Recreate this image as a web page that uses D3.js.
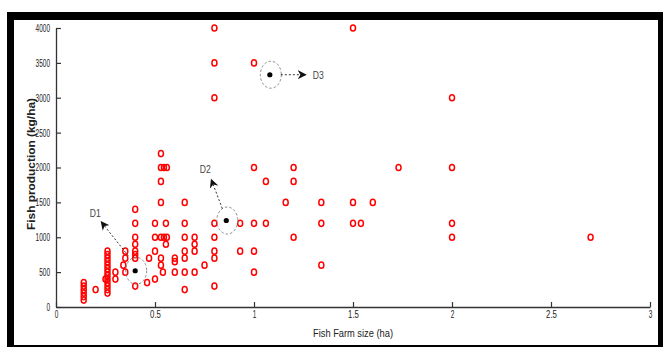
<!DOCTYPE html>
<html>
<head>
<meta charset="utf-8">
<script src="https://cdn.jsdelivr.net/npm/d3@7"></script>
<style>
  body { margin: 0; background: #fff; }
  svg { display: block; }
  .tick text { font-family: 'Liberation Sans', Arial, sans-serif; font-size: 10.5px; fill: #222; }
  .axis-title { font-family: 'Liberation Sans', Arial, sans-serif; font-size: 11px; fill: #222; }
  .note { font-family: 'Liberation Sans', Arial, sans-serif; font-size: 11.5px; fill: #444; }
</style>
</head>
<body>
<svg id="chart" width="663" height="347"></svg>
<script>
// farm size (ha) and fish production (kg/ha)
const farmSize = [
  0.8, 1.5, 0.8, 1.0, 0.8, 2.0,
  0.53, 0.53, 0.545, 0.56, 1.0, 1.2, 1.73, 2.0,
  0.53, 1.06, 1.2,
  0.53, 0.65, 1.16, 1.34, 1.5, 1.6,
  0.40,
  0.40, 0.50, 0.555, 0.65, 0.80, 0.93, 1.0, 1.06, 1.34, 1.5, 1.54, 2.0,
  0.40, 0.50, 0.53, 0.545, 0.56, 0.65, 0.70, 0.80, 1.2, 2.0, 2.7,
  0.40, 0.555, 0.70,
  0.26, 0.35, 0.40, 0.50, 0.65, 0.70, 0.80, 0.93, 1.0,
  0.26, 0.40,
  0.26, 0.35, 0.40, 0.47, 0.53, 0.60, 0.65, 0.80,
  0.26, 0.60,
  0.26, 0.34, 0.53, 0.75, 1.34,
  0.26,
  0.26, 0.30, 0.35, 0.54, 0.60, 0.65, 0.70, 1.0,
  0.26,
  0.25, 0.26, 0.30, 0.50,
  0.14, 0.26, 0.46,
  0.14, 0.26, 0.40, 0.80,
  0.14, 0.20, 0.26, 0.65,
  0.14, 0.26,
  0.14,
  0.14
];
const production = [
  4000, 4000, 3500, 3500, 3000, 3000,
  2200, 2000, 2000, 2000, 2000, 2000, 2000, 2000,
  1800, 1800, 1800,
  1500, 1500, 1500, 1500, 1500, 1500,
  1400,
  1200, 1200, 1200, 1200, 1200, 1200, 1200, 1200, 1200, 1200, 1200, 1200,
  1000, 1000, 1000, 1000, 1000, 1000, 1000, 1000, 1000, 1000, 1000,
  900, 900, 900,
  800, 800, 800, 800, 800, 800, 800, 800, 800,
  750, 750,
  700, 700, 700, 700, 700, 700, 700, 700,
  650, 650,
  600, 600, 600, 600, 600,
  550,
  500, 500, 500, 500, 500, 500, 500, 500,
  450,
  400, 400, 400, 400,
  350, 350, 350,
  300, 300, 300, 300,
  250, 250, 250, 250,
  200, 200,
  150,
  100
];

// marked points D1..D3
const noteNames = ['D1', 'D2', 'D3'];
const noteSize = [0.40, 0.86, 1.08];
const noteProd = [520, 1240, 3330];

const xTicks = [0, 0.5, 1, 1.5, 2, 2.5, 3];
const yTicks = [0, 500, 1000, 1500, 2000, 2500, 3000, 3500, 4000];

const svg = d3.select('#chart');

// squeeze text to look like the narrow face of the original
function narrow(sel, perChar) {
  sel.each(function () {
    const t = d3.select(this);
    t.attr('textLength', t.text().length * perChar).attr('lengthAdjust', 'spacingAndGlyphs');
  });
}

// black frame round the figure
svg.append('rect').attr('x', 7).attr('y', 12).attr('width', 656).attr('height', 335).attr('fill', '#000');
svg.append('rect').attr('x', 14).attr('y', 20).attr('width', 644).attr('height', 325).attr('fill', '#fff');

const x = d3.scaleLinear().domain([0, 3]).range([56, 650]);
const y = d3.scaleLinear().domain([0, 4000]).range([307, 28]);

// axes, ticks pointing inward
const xAxis = svg.append('g')
  .attr('transform', 'translate(0,307)')
  .call(d3.axisBottom(x).tickValues(xTicks).tickFormat(d3.format('')).tickSizeInner(-5).tickSizeOuter(0).tickPadding(4));
const yAxis = svg.append('g')
  .attr('transform', 'translate(56,0)')
  .call(d3.axisLeft(y).tickValues(yTicks).tickFormat(d3.format('d')).tickSizeInner(-5).tickSizeOuter(0).tickPadding(6));

[xAxis, yAxis].forEach((g) => {
  g.select('.domain').attr('stroke', '#333').attr('stroke-width', 1.3);
  g.selectAll('.tick line').attr('stroke', '#333').attr('stroke-width', 1.2);
  g.selectAll('.tick text').call(narrow, 3.6);
});

svg.append('text')
  .attr('class', 'axis-title')
  .attr('x', 353)
  .attr('y', 337)
  .attr('text-anchor', 'middle')
  .attr('textLength', 80)
  .attr('lengthAdjust', 'spacingAndGlyphs')
  .text('Fish Farm size (ha)');

svg.append('text')
  .attr('class', 'axis-title')
  .attr('transform', 'translate(35,164) rotate(-90)')
  .attr('text-anchor', 'middle')
  .attr('textLength', 132)
  .attr('lengthAdjust', 'spacingAndGlyphs')
  .style('font-weight', 'bold')
  .text('Fish production (kg/ha)');

// data markers
svg.append('g')
  .selectAll('ellipse')
  .data(d3.range(farmSize.length))
  .enter()
  .append('ellipse')
  .attr('cx', (i) => x(farmSize[i]))
  .attr('cy', (i) => y(production[i]))
  .attr('rx', 2.5)
  .attr('ry', 3.1)
  .attr('fill', 'none')
  .attr('stroke', '#f00')
  .attr('stroke-width', 1.5);

// arrow head
svg.append('defs')
  .append('marker')
  .attr('id', 'head')
  .attr('viewBox', '0 0 10 10')
  .attr('refX', 9)
  .attr('refY', 5)
  .attr('markerWidth', 9)
  .attr('markerHeight', 9)
  .attr('markerUnits', 'userSpaceOnUse')
  .attr('orient', 'auto')
  .append('path')
  .attr('d', 'M0,0 L10,5 L0,10 L3,5 Z')
  .attr('fill', '#111');

// offsets of arrow start/end and label from the marked point
const arrowFrom = [[-7, -15], [-4, -12], [11, 0]];
const arrowTo = [[-34, -49], [-15, -41], [36, 0]];
const labelAt = [[-40, -58], [-21, -52], [43, 0]];

const notes = svg.append('g');
noteNames.forEach((name, i) => {
  const cx = x(noteSize[i]);
  const cy = y(noteProd[i]);
  notes.append('ellipse')
    .attr('cx', cx + 1).attr('cy', cy)
    .attr('rx', 10.5).attr('ry', 13.5)
    .attr('fill', 'none')
    .attr('stroke', '#888')
    .attr('stroke-width', 1)
    .attr('stroke-dasharray', '2.5,2');
  notes.append('circle')
    .attr('cx', cx).attr('cy', cy)
    .attr('r', 2.6)
    .attr('fill', '#000');
  notes.append('line')
    .attr('x1', cx + arrowFrom[i][0]).attr('y1', cy + arrowFrom[i][1])
    .attr('x2', cx + arrowTo[i][0]).attr('y2', cy + arrowTo[i][1])
    .attr('stroke', '#333')
    .attr('stroke-width', 1)
    .attr('stroke-dasharray', '2,2')
    .attr('marker-end', 'url(#head)');
  notes.append('text')
    .attr('class', 'note')
    .attr('x', cx + labelAt[i][0])
    .attr('y', cy + labelAt[i][1])
    .attr('dy', '0.35em')
    .attr('text-anchor', i === 2 ? 'start' : 'middle')
    .attr('textLength', 11)
    .attr('lengthAdjust', 'spacingAndGlyphs')
    .text(name);
});
</script>
</body>
</html>
